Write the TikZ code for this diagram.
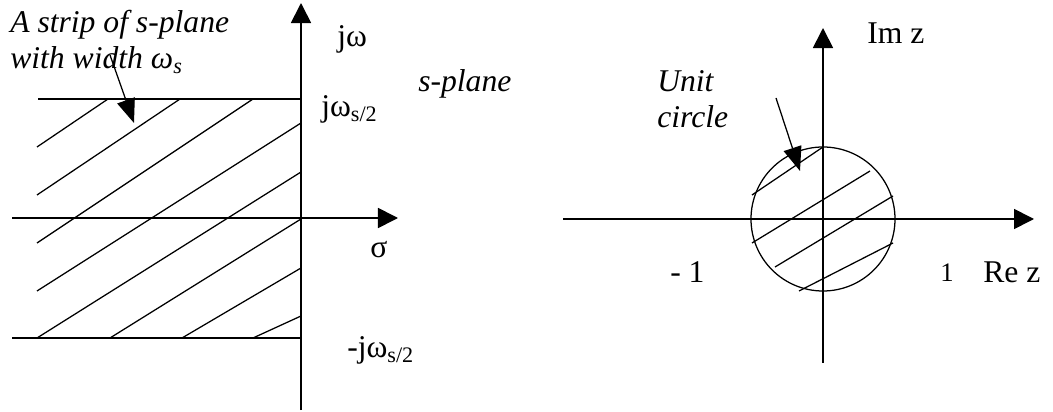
\documentclass[tikz,border=0pt]{standalone}
\usepackage{fontspec}
\setmainfont{Liberation Serif}
\usetikzlibrary{arrows.meta}

\begin{document}
\begin{tikzpicture}[
  x=0.025cm, y=-0.025cm,
  >={Triangle[length=5mm, width=5mm]},
  axis/.style={line width=1.2pt, ->},
  edge/.style={line width=0.9pt},
  hatch/.style={line width=0.9pt},
  pointer/.style={line width=0.9pt, -{Triangle[length=6mm, width=4.6mm]}},
  lbl/.style={font=\fontsize{22.5}{26.3}\selectfont, inner sep=0pt},
  note/.style={lbl, font=\fontsize{22.5}{26.3}\selectfont\itshape, align=left}
]
\useasboundingbox (0,0) rectangle (1053,412);

% s-plane
\coordinate (sO) at (301,218);
\coordinate (sBot) at (301,410);
\coordinate (sTop) at (301,3);
\coordinate (sLeft) at (12,218);
\coordinate (sRight) at (398,218);
\draw[axis] (sBot) -- (sTop);
\draw[axis] (sLeft) -- (sRight);
\draw[edge] (38,99) -- (301,99);
\draw[edge] (12,338) -- (301,338);
\foreach \xa/\ya/\xb/\yb in {37/147/108/99, 37/195/180/99, 37/243/253/99,
  37/291/301/123, 37/338/301/172, 110/338/301/219, 182/338/301/268,
  253/338/301/316}
  \draw[hatch] (\xa,\ya) -- (\xb,\yb);

\node[lbl, anchor=base west] (jw) at (337,47) {jω};
\node[lbl, anchor=base west] (jwp) at (321,117) {jω\textsubscript{s/2}};
\node[lbl, anchor=base west] (jwm) at (347,358) {-jω\textsubscript{s/2}};
\node[lbl, anchor=base west] (sigma) at (370,258) {σ};
\node[note, anchor=base west] (splane) at (418,92) {s-plane};

\node[note, anchor=base west] (strip) at (10,69) {A strip of s-plane\\with width ω\textsubscript{s}};
\coordinate (stripFrom) at (110,55);
\coordinate (stripTo) at (134,123);
\draw[pointer] (stripFrom) -- (stripTo);

% z-plane
\coordinate (zO) at (823,219);
\coordinate (zBot) at (823,363);
\coordinate (zTop) at (823,28);
\coordinate (zLeft) at (563,219);
\coordinate (zRight) at (1034,219);
\draw[axis] (zBot) -- (zTop);
\draw[axis] (zLeft) -- (zRight);
\node[draw, circle, line width=0.9pt, minimum size=144*0.025cm, inner sep=0pt] (unit) at (zO) {};
\foreach \xa/\ya/\xb/\yb in {752/195/823/147, 752/243/870/171,
  775/267/893/196, 799/291/893/243}
  \draw[hatch] (\xa,\ya) -- (\xb,\yb);

\node[lbl, anchor=base west] (imz) at (867,44) {Im z};
\node[lbl, anchor=base west] (rez) at (983,283) {Re z};
\node[lbl, anchor=base west] (mone) at (670,283) {- 1};
\node[lbl, anchor=base west, font=\fontsize{19}{22}\selectfont] (one) at (940,282) {1};
\node[note, anchor=base west] (ucirc) at (657,128) {Unit\\circle};
\coordinate (ucFrom) at (776,98);
\coordinate (ucTo) at (800,171);
\draw[pointer] (ucFrom) -- (ucTo);
\end{tikzpicture}
\end{document}
